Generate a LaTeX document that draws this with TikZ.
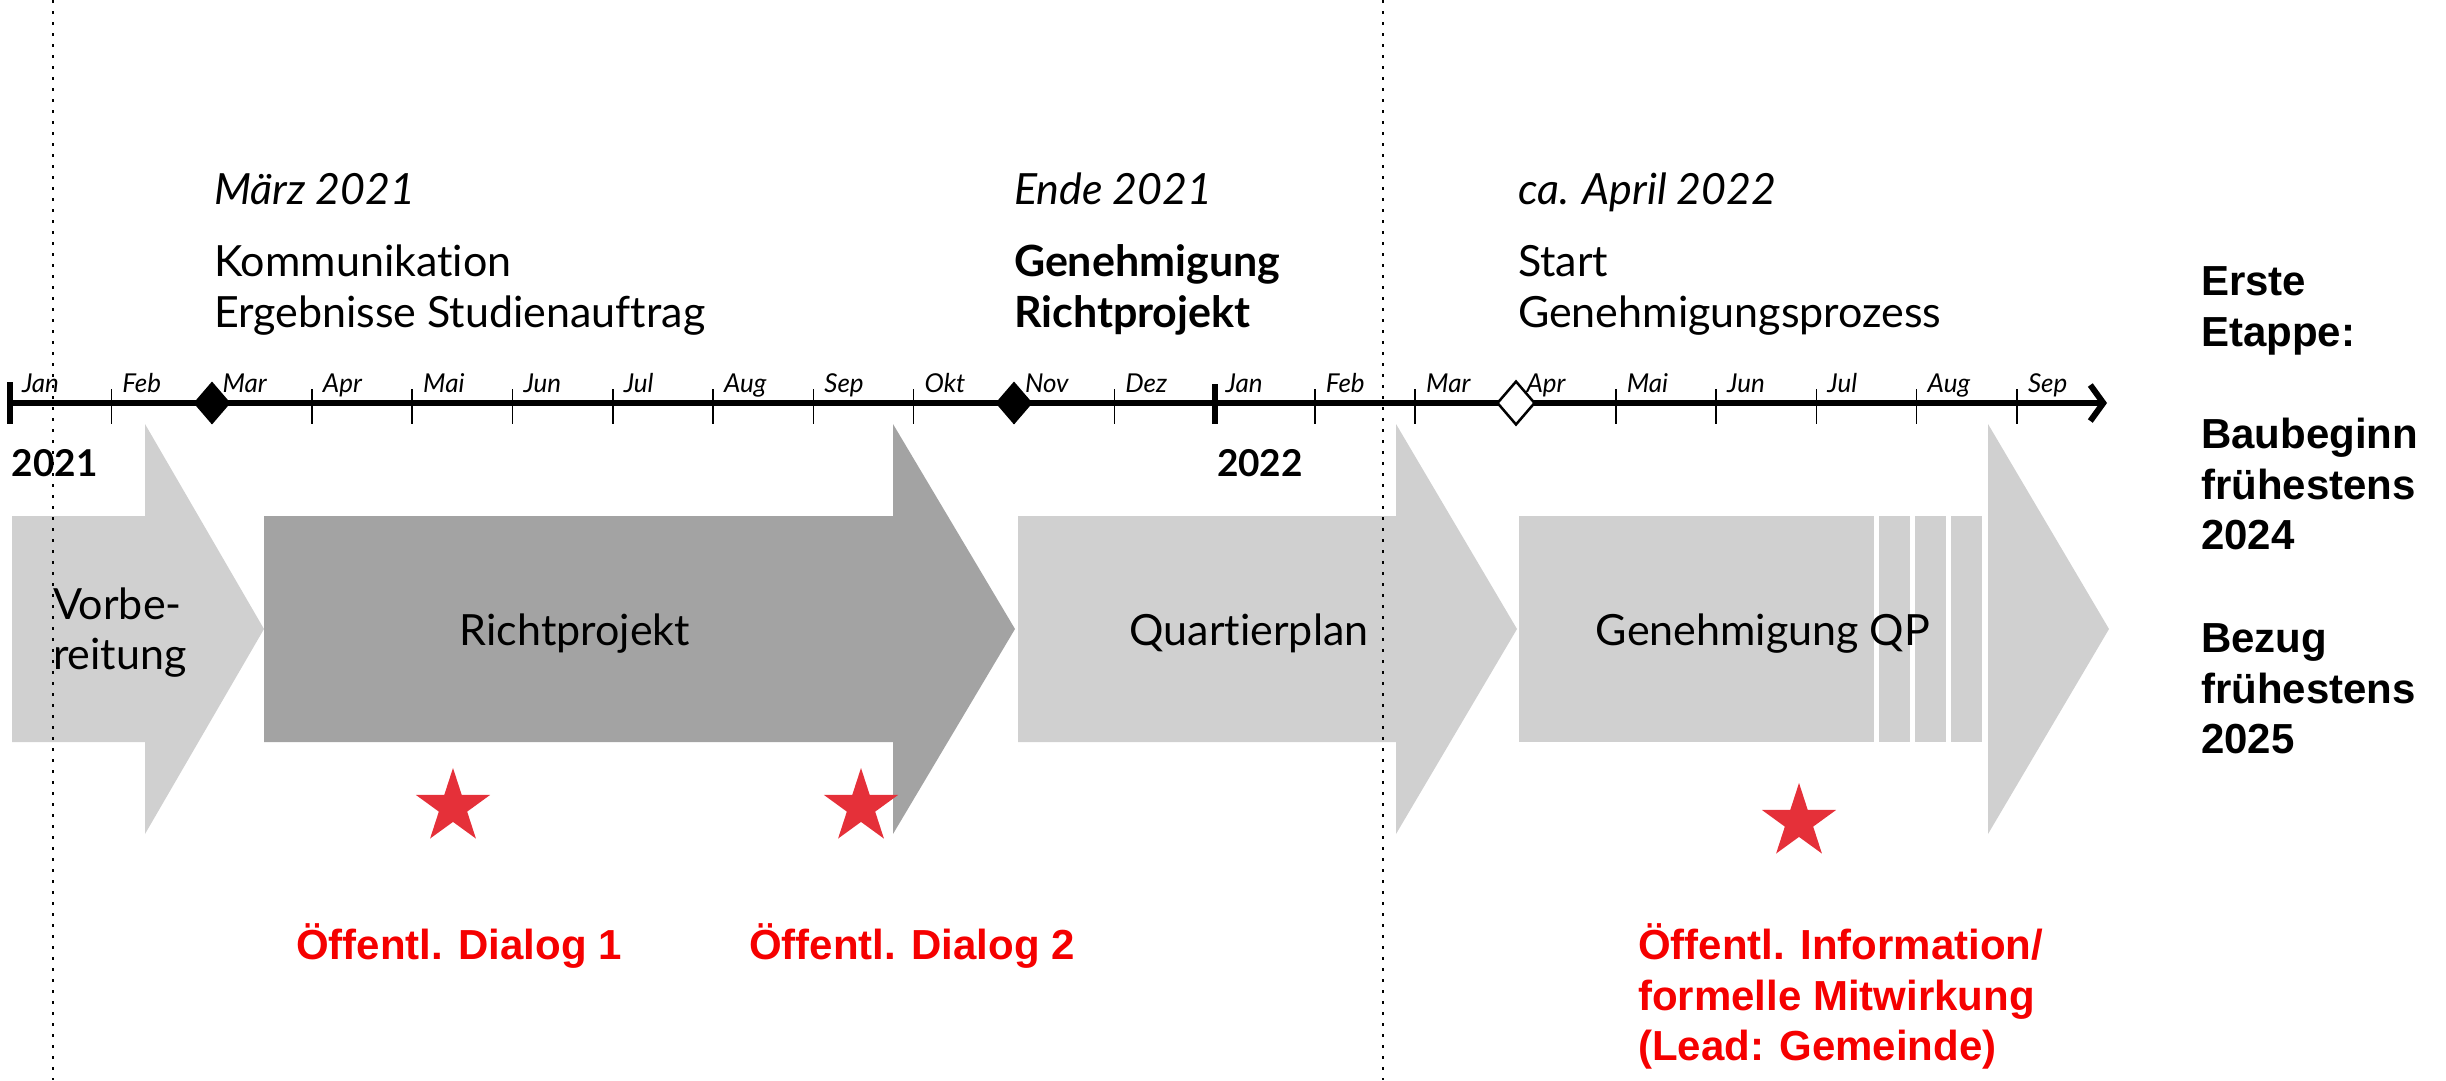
\documentclass[tikz,border=0pt]{standalone}
\usepackage{fontspec}
\setmainfont{Lato}[Ligatures=NoCommon]
\newfontfamily\arialf{Liberation Sans}
\usetikzlibrary{arrows.meta,shapes.geometric}
\definecolor{lightg}{RGB}{208,208,208}
\definecolor{darkg}{RGB}{163,163,163}
\definecolor{starred}{RGB}{229,48,57}
\definecolor{txtred}{RGB}{245,0,0}
\tikzset{
  lbl/.style={inner sep=0pt, outer sep=0pt, anchor=base west},
  mainlbl/.style={lbl, font=\fontsize{43}{50}\selectfont},
  mainit/.style={lbl, font=\itshape\fontsize{43}{50}\selectfont},
  mainbf/.style={lbl, font=\bfseries\fontsize{43}{50}\selectfont},
  sidelbl/.style={lbl, font=\arialf\bfseries\fontsize{42}{51}\selectfont},
  redlbl/.style={lbl, font=\arialf\bfseries\fontsize{42}{51}\selectfont, text=txtred},
  monthlbl/.style={lbl, font=\itshape\fontsize{26}{30}\selectfont},
  yearlbl/.style={lbl, font=\bfseries\fontsize{37}{40}\selectfont},
  inlbl/.style={inner sep=0pt, font=\fontsize{43}{50}\selectfont},
  starshape/.style={star, star points=5, star point ratio=2.618, minimum size=78pt, inner sep=0pt, fill=starred, draw=none},
  milestone/.style={diamond, minimum width=38pt, minimum height=44pt, inner sep=0pt, line width=2.5pt},
  dotline/.style={line width=2.5pt, dash pattern=on 3pt off 8pt},
}
\begin{document}
\begin{tikzpicture}[x=1pt,y=-1pt]
\useasboundingbox (0,0) rectangle (2446,1080);
% phase arrows
\fill[lightg] (12,516) -- (145,516) -- (145,424) -- (264,629) -- (145,834) -- (145,742) -- (12,742) -- cycle;
\fill[darkg] (264,516) -- (893,516) -- (893,424) -- (1015,629) -- (893,834) -- (893,742) -- (264,742) -- cycle;
\fill[lightg] (1018,516) -- (1396,516) -- (1396,424) -- (1517,629) -- (1396,834) -- (1396,742) -- (1018,742) -- cycle;
\fill[lightg] (1519,516) rectangle (1874,742);
\fill[lightg] (1879,516) rectangle (1910,742);
\fill[lightg] (1915,516) rectangle (1946,742);
\fill[lightg] (1951,516) rectangle (1982,742);
\fill[lightg] (1988,424) -- (2109,629) -- (1988,834) -- cycle;
% phase texts
\node[mainlbl] (vorb1) at (53,619) {Vorbe-};
\node[mainlbl] (vorb2) at (53,669) {reitung};
\node[inlbl, anchor=base] (richt) at (575,645) {Richtprojekt};
\node[inlbl, anchor=base] (quart) at (1249,645) {Quartierplan};
\node[inlbl, anchor=base] (genqp) at (1763,645) {Genehmigung QP};
% axis
\coordinate (ax0) at (11,403);
\coordinate (ax1) at (2107,403);
\draw[line width=6pt, -{Straight Barb[length=13pt,width=36pt]}] (ax0) -- (ax1);
\foreach \i in {1,...,20}{
  \draw[line width=1.5pt] ({11+100.3*\i},389) -- ({11+100.3*\i},424);
}
\coordinate (lb0) at (10,382);
\coordinate (lb1) at (10,424);
\draw[line width=6pt] (lb0) -- (lb1);
\coordinate (jb0) at (1215,384);
\coordinate (jb1) at (1215,424);
\draw[line width=5.5pt] (jb0) -- (jb1);
\foreach \m [count=\i from 0] in {Jan,Feb,Mar,Apr,Mai,Jun,Jul,Aug,Sep,Okt,Nov,Dez,Jan,Feb,Mar,Apr,Mai,Jun,Jul,Aug,Sep}{
  \node[monthlbl] (mon\i) at ({22+100.3*\i},392) {\m};
}
\node[milestone, fill=black] (ms1) at (212,403) {};
\node[milestone, fill=black] (ms2) at (1014,403) {};
\node[milestone, fill=white, draw=black] (ms3) at (1516,403) {};
% years
\node[yearlbl] (y2021) at (12,476) {2021};
\node[yearlbl] (y2022) at (1217,476) {2022};
% top texts
\node[mainit] (t1a) at (214,204) {März 2021};
\node[mainlbl] (t1b) at (214,276) {Kommunikation};
\node[mainlbl] (t1c) at (214,327) {Ergebnisse Studienauftrag};
\node[mainit] (t2a) at (1014,204) {Ende 2021};
\node[mainbf] (t2b) at (1014,276) {Genehmigung};
\node[mainbf] (t2c) at (1014,327) {Richtprojekt};
\node[mainit] (t3a) at (1518,204) {ca. April 2022};
\node[mainlbl] (t3b) at (1518,276) {Start};
\node[mainlbl] (t3c) at (1518,327) {Genehmigungsprozess};
% right side
\node[sidelbl] (r1) at (2201,295) {Erste};
\node[sidelbl] (r2) at (2201,346) {Etappe:};
\node[sidelbl] (r3) at (2201,448) {Baubeginn};
\node[sidelbl] (r4) at (2201,499) {frühestens};
\node[sidelbl] (r5) at (2201,549) {2024};
\node[sidelbl] (r6) at (2201,652) {Bezug};
\node[sidelbl] (r7) at (2201,703) {frühestens};
\node[sidelbl] (r8) at (2201,753) {2025};
% stars
\node[starshape] (s1) at (453,807) {};
\node[starshape] (s2) at (861,807) {};
\node[starshape] (s3) at (1799,822) {};
% red labels
\node[redlbl] (d1) at (296,959) {Öffentl. Dialog 1};
\node[redlbl] (d2) at (749,959) {Öffentl. Dialog 2};
\node[redlbl] (d3a) at (1638,959) {Öffentl. Information/};
\node[redlbl] (d3b) at (1638,1010) {formelle Mitwirkung};
\node[redlbl] (d3c) at (1638,1060) {(Lead: Gemeinde)};
% dotted lines
\coordinate (dl0) at (53,0);
\coordinate (dl1) at (53,1080);
\coordinate (dr0) at (1383,0);
\coordinate (dr1) at (1383,1080);
\draw[dotline] (dl0) -- (dl1);
\draw[dotline] (dr0) -- (dr1);
\end{tikzpicture}
\end{document}
